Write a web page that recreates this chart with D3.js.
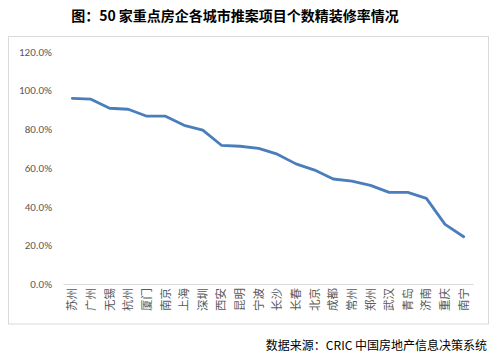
<!DOCTYPE html>
<html><head><meta charset="utf-8">
<script src="https://cdn.jsdelivr.net/npm/d3@7"></script>
<style>body{margin:0;background:#fff}svg{display:block}</style>
</head><body>
<svg id="c" width="501" height="360"></svg>
<script>
const title = "图：50 家重点房企各城市推案项目个数精装修率情况";
const source = "数据来源：CRIC 中国房地产信息决策系统";
const cities = ["苏州","广州","无锡","杭州","厦门","南京","上海","深圳","西安","昆明","宁波","长沙","长春","北京","成都","常州","郑州","武汉","青岛","济南","重庆","南宁"];
const rates = [95.8,95.4,90.7,90.2,86.6,86.6,81.9,79.4,71.6,71.1,70.0,67.0,62.0,58.8,54.2,53.1,50.9,47.3,47.3,44.2,30.8,24.4];
const yTicks = [0,20,40,60,80,100,120];

const svg = d3.select("#c");
const font = "'Microsoft YaHei','Noto Sans CJK SC',sans-serif";

svg.append("text").attr("x",235).attr("y",21).attr("text-anchor","middle")
  .attr("font-family",font).attr("font-weight","bold").attr("font-size",14)
  .attr("fill","#000").text(title);

svg.append("rect").attr("x",8.5).attr("y",36.5).attr("width",480).attr("height",287.5)
  .attr("fill","none").attr("stroke","#d9d9d9").attr("stroke-width",1);

const pL=63, pR=473, pT=51.5, pB=284;
const x = d3.scaleBand().domain(cities).range([pL,pR]);
const y = d3.scaleLinear().domain([0,120]).range([pB,pT]);

const ya = svg.append("g").attr("transform",`translate(${pL},0)`)
  .call(d3.axisLeft(y).tickValues(yTicks).tickSize(0).tickPadding(11).tickFormat(d=>d.toFixed(1)+"%"));
ya.select(".domain").remove();
ya.selectAll("text").attr("font-family","'Calibri','Carlito','Liberation Sans',sans-serif")
  .attr("font-size",11).attr("fill","#595959");

const xa = svg.append("g").attr("transform",`translate(0,${pB})`)
  .call(d3.axisBottom(x).tickSize(0).tickPadding(0));
xa.select(".domain").attr("stroke","#d9d9d9");
xa.selectAll("text").attr("font-family",font).attr("font-size",11.5).attr("fill","#595959")
  .attr("transform","rotate(-90)").attr("text-anchor","end")
  .attr("x",-4).attr("y",0).attr("dy","0.35em");

const line = d3.line().x((d,i)=>x(cities[i])+x.bandwidth()/2).y(d=>y(d));
svg.append("path").datum(rates).attr("d",line).attr("fill","none")
  .attr("stroke","#4A7EBB").attr("stroke-width",2.8).attr("stroke-linejoin","round").attr("stroke-linecap","round");

svg.append("text").attr("x",487).attr("y",350).attr("text-anchor","end")
  .attr("font-family",font).attr("font-size",12).attr("fill","#000").text(source);
</script>
</body></html>
